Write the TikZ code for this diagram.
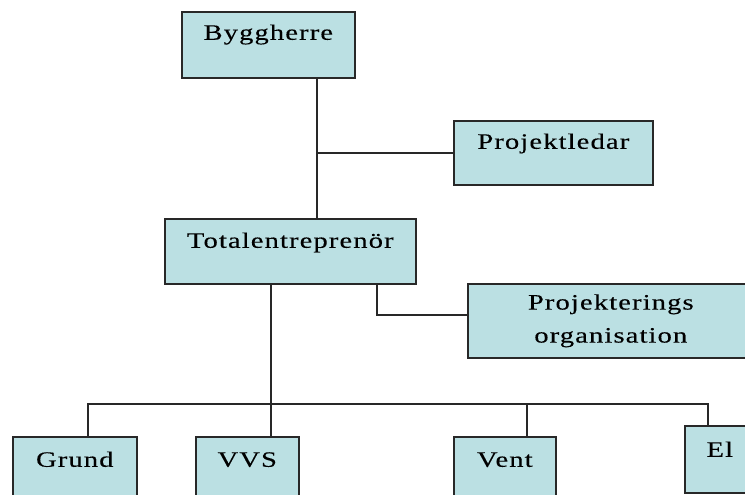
\documentclass[tikz,border=0pt]{standalone}
\usepackage{fontspec}
\setmainfont{Liberation Serif}[FakeStretch=1.3,LetterSpace=5,FakeBold=0.2]
\usetikzlibrary{calc}
\definecolor{boxfill}{RGB}{187,224,227}
\definecolor{linec}{RGB}{40,40,40}
\begin{document}
\begin{tikzpicture}[x=1pt,y=-1pt,
  box/.style={draw=linec, line width=1.6pt, fill=boxfill, rectangle, anchor=north west,
    inner sep=0pt, align=center, font=\fontsize{22}{33}\selectfont},
  conn/.style={draw=linec, line width=1.5pt}]
\useasboundingbox (0,0) rectangle (745,495);
\clip (0,0) rectangle (745,495);
\node[box, minimum width=173pt, text height=28pt, text depth=38pt] (bh) at (181,11) {Byggherre};
\node[box, minimum width=199pt, text height=28pt, text depth=36pt] (pl) at (453,120) {Projektledar};
\node[box, minimum width=251pt, text height=29pt, text depth=36pt] (te) at (164,218) {Totalentreprenör};
\node[box, minimum width=286pt, minimum height=74pt] (po) at (467,283) {Projekterings\\organisation};
\node[box, minimum width=124pt, text height=30pt, text depth=36pt] (gr) at (12,436) {Grund};
\node[box, minimum width=103pt, text height=30pt, text depth=36pt] (vv) at (195,436) {VVS};
\node[box, minimum width=102pt, text height=30pt, text depth=36pt] (ve) at (453,436) {Vent};
\node[box, minimum width=70pt, text height=31pt, text depth=36pt] (el) at (684,425) {El};
\coordinate (j1) at (317,153);
\coordinate (j3) at (377,315);
\coordinate (j2) at (271,404);
\coordinate (b1) at (88,404);
\coordinate (b3) at (527,404);
\coordinate (b4) at (708,404);
\draw[conn] (bh.south -| j1) -- (te.north -| j1);
\draw[conn] (j1) -- (pl.west |- j1);
\draw[conn] (te.south -| j3) -- (j3) -- (po.west |- j3);
\draw[conn] (te.south -| j2) -- (j2);
\draw[conn] (gr.north -| b1) -- (b1) -- (b4) -- (el.north -| b4);
\draw[conn] (j2) -- (vv.north -| j2);
\draw[conn] (b3) -- (ve.north -| b3);
\end{tikzpicture}
\end{document}
